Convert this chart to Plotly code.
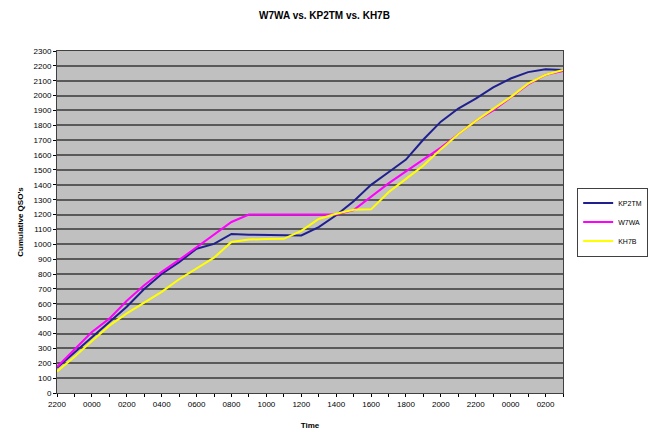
import plotly.graph_objects as go

hours = ["2200", "2300", "0000", "0100", "0200", "0300", "0400", "0500", "0600", "0700",
         "0800", "0900", "1000", "1100", "1200", "1300", "1400", "1500", "1600", "1700",
         "1800", "1900", "2000", "2100", "2200", "2300", "0000", "0100", "0200", "0300"]

kp2tm = [170, 271, 373, 476, 580, 699, 800, 880, 970, 1003,
         1070, 1065, 1065, 1063, 1060, 1115, 1195, 1290, 1400, 1485,
         1570, 1705, 1825, 1913, 1980, 2055, 2115, 2158, 2177, 2172]

w7wa = [175, 295, 410, 500, 620, 725, 815, 895, 980, 1065,
        1150, 1200, 1200, 1200, 1200, 1200, 1200, 1230, 1320, 1410,
        1490, 1570, 1650, 1740, 1830, 1900, 1990, 2075, 2140, 2165]

kh7b = [145, 243, 350, 453, 535, 605, 680, 765, 835, 910,
        1015, 1032, 1035, 1037, 1090, 1170, 1205, 1232, 1235, 1350,
        1440, 1530, 1640, 1740, 1830, 1910, 1990, 2080, 2140, 2172]

series = [("KP2TM", kp2tm, "#1F1F8F"), ("W7WA", w7wa, "#FF00FF"), ("KH7B", kh7b, "#FFFF00")]

x = list(range(len(hours)))
ticktext = [h if i % 2 == 0 else "" for i, h in enumerate(hours)]

fig = go.Figure()
for name, vals, color in series:
    fig.add_trace(go.Scatter(x=x, y=vals, mode="lines", name=name,
                             line=dict(color=color, width=2)))

font = "Liberation Sans, Arial, sans-serif"
fig.update_layout(
    width=649, height=432,
    margin=dict(l=57, r=86, t=51, b=39, autoexpand=False),
    paper_bgcolor="white",
    plot_bgcolor="#C0C0C0",
    font=dict(family=font, size=8, color="black"),
    title=dict(text="<b>W7WA vs. KP2TM vs. KH7B</b>", x=0.5, xanchor="center",
               y=0.965, yanchor="middle", font=dict(size=10, family=font)),
    showlegend=True,
    legend=dict(x=1.028, y=0.5, xanchor="left", yanchor="middle",
                bordercolor="#404040", borderwidth=1, bgcolor="white",
                font=dict(size=7), itemwidth=30, tracegroupgap=0),
    xaxis=dict(
        range=[0, len(hours) - 1],
        tickmode="array", tickvals=x, ticktext=ticktext,
        ticks="outside", ticklen=3, tickcolor="black",
        showline=True, linecolor="#404040", linewidth=1, mirror=True,
        showgrid=False, zeroline=False, tickangle=0,
        title=dict(text="<b>Time</b>", font=dict(size=8), standoff=14),
    ),
    yaxis=dict(
        range=[0, 2300], dtick=100, tick0=0,
        ticks="outside", ticklen=3, tickcolor="black",
        showline=True, linecolor="#404040", linewidth=1, mirror=True,
        showgrid=True, gridcolor="#5A5A5A", gridwidth=1.5, zeroline=False,
        title=dict(text="<b>Cumulative QSO's</b>", font=dict(size=8), standoff=8),
    ),
)

fig.write_html("out.html", config={"displayModeBar": False},
               post_script="document.body.style.margin='0';")
